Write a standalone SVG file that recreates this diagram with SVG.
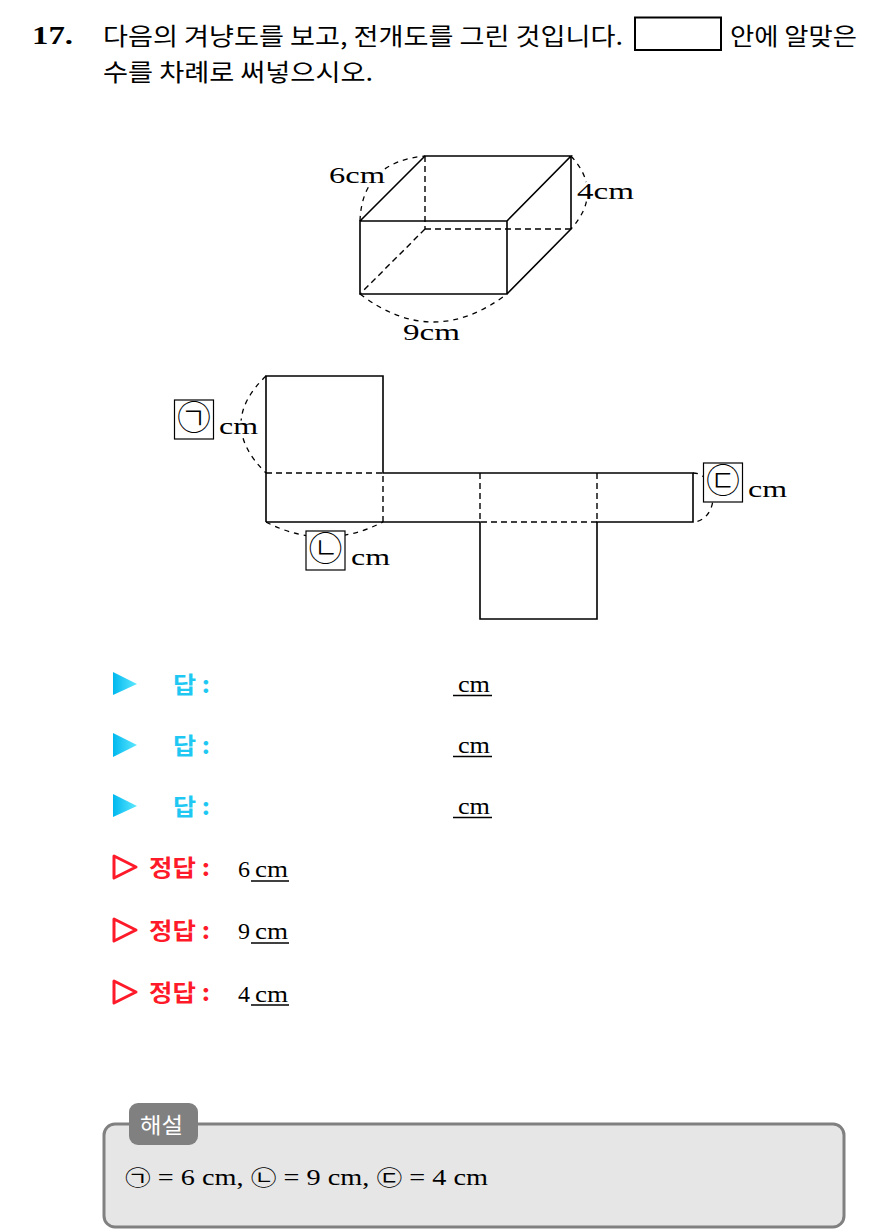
<svg xmlns="http://www.w3.org/2000/svg" width="884" height="1231" viewBox="0 0 884 1231">
<defs>
<linearGradient id="cyanGrad" x1="0" y1="0" x2="1" y2="0">
<stop offset="0" stop-color="#00b8ee"/>
<stop offset="1" stop-color="#5ee8ff"/>
</linearGradient>
<style>
.kr{font-family:"Noto Sans CJK KR","Noto Sans",sans-serif;fill:#000}
.num{font-family:"Liberation Serif","Noto Sans CJK KR",serif;fill:#000}
.solid{fill:none;stroke:#000;stroke-width:1.6}
.dash{fill:none;stroke:#000;stroke-width:1.4;stroke-dasharray:6 4}
.arc{fill:none;stroke:#000;stroke-width:1.3;stroke-dasharray:5 5}
.halo{paint-order:stroke;stroke:#fff;stroke-width:5;stroke-linejoin:round}
.lbox{fill:#fff;stroke:#000;stroke-width:1.2}
.circ{font-family:"Noto Sans CJK KR",sans-serif;font-size:34px;font-weight:300;fill:#000}
.cyan{font-family:"Noto Sans CJK KR",sans-serif;font-weight:bold;fill:#1ec8f2}
.red{font-family:"Noto Sans CJK KR",sans-serif;font-weight:bold;fill:#ff1a2a}
.ul{stroke:#000;stroke-width:1.6}
</style>
</defs>
<rect width="884" height="1231" fill="#fff"/>

<g id="question">
<text x="32" y="44" font-family="Liberation Serif, serif" font-weight="bold" font-size="26" textLength="41" lengthAdjust="spacingAndGlyphs">17.</text>
<text class="kr" x="103" y="45" font-size="24" textLength="520" lengthAdjust="spacingAndGlyphs">다음의 겨냥도를 보고, 전개도를 그린 것입니다.</text>
<rect x="635" y="17.5" width="86" height="32.5" fill="#fff" stroke="#000" stroke-width="2"/>
<text class="kr" x="730" y="45" font-size="24" textLength="127" lengthAdjust="spacingAndGlyphs">안에 알맞은</text>
<text class="kr" x="103" y="81" font-size="24" textLength="270" lengthAdjust="spacingAndGlyphs">수를 차례로 써넣으시오.</text>
</g>

<g id="cuboid">
<path class="solid" d="M360,221 H507 V294 H360 Z M360,221 L425,156 H571 L507,221 M571,156 V229 L507,294"/>
<path class="dash" d="M425,156 V229 M425,229 H571 M425,229 L360,294"/>
<path class="arc" d="M360,221 Q362,162 425,156"/>
<path class="arc" d="M571,156 Q604,192 571,229"/>
<path class="arc" d="M360,294 Q433,350 507,294"/>
<text class="num halo" x="329" y="183" font-size="24" textLength="56" lengthAdjust="spacingAndGlyphs">6cm</text>
<text class="num halo" x="577" y="199" font-size="24" textLength="57" lengthAdjust="spacingAndGlyphs">4cm</text>
<text class="num halo" x="403" y="340" font-size="24" textLength="57" lengthAdjust="spacingAndGlyphs">9cm</text>
</g>

<g id="net">
<path class="solid" stroke-width="2" d="M266,522 V376 H383 V473 H693 V522 H597 V619 H480 V522 H266"/>
<path class="dash" stroke-width="1.6" d="M266,473 H383 V522 M480,473 V522 H597 M597,473 V522"/>
<path class="arc" d="M266,376 Q216,424 266,473"/>
<path class="arc" d="M266,522 Q324,552 383,522"/>
<path class="arc" d="M693,473 A20,24.5 0 0 1 693,522"/>
</g>

<g id="label-a">
<rect class="lbox" x="174.5" y="400" width="39" height="39"/>
<text class="circ" x="194" y="430" text-anchor="middle">㉠</text>
<text class="num halo" x="219" y="434" font-size="24" textLength="39" lengthAdjust="spacingAndGlyphs">cm</text>
</g>
<g id="label-b">
<rect class="lbox" x="306" y="531" width="39" height="39"/>
<text class="circ" x="325.5" y="561" text-anchor="middle">㉡</text>
<text class="num halo" x="351" y="565" font-size="24" textLength="39" lengthAdjust="spacingAndGlyphs">cm</text>
</g>
<g id="label-c">
<rect class="lbox" x="703.5" y="463" width="39" height="39"/>
<text class="circ" x="723" y="493" text-anchor="middle">㉢</text>
<text class="num halo" x="748" y="497" font-size="24" textLength="39" lengthAdjust="spacingAndGlyphs">cm</text>
</g>

<g id="answers">
<polygon points="113,672 137,684 113,695" fill="url(#cyanGrad)"/>
<text class="cyan" x="173" y="693" font-size="23" textLength="37" lengthAdjust="spacingAndGlyphs">답 :</text>
<text class="num" x="458" y="692" font-size="24" textLength="32" lengthAdjust="spacingAndGlyphs">cm</text>
<line class="ul" x1="453" y1="695.5" x2="492" y2="695.5"/>

<polygon points="113,733 137,745 113,757" fill="url(#cyanGrad)"/>
<text class="cyan" x="173" y="754" font-size="23" textLength="37" lengthAdjust="spacingAndGlyphs">답 :</text>
<text class="num" x="458" y="753" font-size="24" textLength="32" lengthAdjust="spacingAndGlyphs">cm</text>
<line class="ul" x1="453" y1="756.5" x2="492" y2="756.5"/>

<polygon points="113,794 137,806 113,817" fill="url(#cyanGrad)"/>
<text class="cyan" x="173" y="815" font-size="23" textLength="37" lengthAdjust="spacingAndGlyphs">답 :</text>
<text class="num" x="458" y="814" font-size="24" textLength="32" lengthAdjust="spacingAndGlyphs">cm</text>
<line class="ul" x1="453" y1="817.5" x2="492" y2="817.5"/>
</g>

<g id="solutions">
<polygon points="114,856 136,867 114,878" fill="none" stroke="#ff1a2a" stroke-width="3" stroke-linejoin="round"/>
<text class="red" x="149" y="876" font-size="23" textLength="61" lengthAdjust="spacingAndGlyphs">정답 :</text>
<text class="num" x="238" y="877" font-size="24">6</text>
<text class="num" x="255" y="877" font-size="24" textLength="33" lengthAdjust="spacingAndGlyphs">cm</text>
<line class="ul" x1="251" y1="881" x2="289" y2="881"/>

<polygon points="114,919 136,930 114,941" fill="none" stroke="#ff1a2a" stroke-width="3" stroke-linejoin="round"/>
<text class="red" x="149" y="939" font-size="23" textLength="61" lengthAdjust="spacingAndGlyphs">정답 :</text>
<text class="num" x="238" y="939" font-size="24">9</text>
<text class="num" x="255" y="939" font-size="24" textLength="33" lengthAdjust="spacingAndGlyphs">cm</text>
<line class="ul" x1="251" y1="943" x2="289" y2="943"/>

<polygon points="114,981 136,992 114,1003" fill="none" stroke="#ff1a2a" stroke-width="3" stroke-linejoin="round"/>
<text class="red" x="149" y="1001" font-size="23" textLength="61" lengthAdjust="spacingAndGlyphs">정답 :</text>
<text class="num" x="238" y="1002" font-size="24">4</text>
<text class="num" x="255" y="1002" font-size="24" textLength="33" lengthAdjust="spacingAndGlyphs">cm</text>
<line class="ul" x1="251" y1="1005" x2="289" y2="1005"/>
</g>

<g id="explanation">
<rect x="104" y="1124" width="740" height="103" rx="11" fill="#e6e6e6" stroke="#808080" stroke-width="3"/>
<rect x="129" y="1103" width="69" height="42" rx="9" fill="#808080"/>
<text x="140" y="1133" font-family="Noto Sans CJK KR, sans-serif" font-size="22" fill="#fff" textLength="43" lengthAdjust="spacingAndGlyphs">해설</text>
<text class="num" x="125" y="1185" font-size="23" textLength="363" lengthAdjust="spacingAndGlyphs"><tspan font-family="Noto Sans CJK KR, sans-serif" font-size="21">㉠</tspan> = 6 cm, <tspan font-family="Noto Sans CJK KR, sans-serif" font-size="21">㉡</tspan> = 9 cm, <tspan font-family="Noto Sans CJK KR, sans-serif" font-size="21">㉢</tspan> = 4 cm</text>
</g>
</svg>
